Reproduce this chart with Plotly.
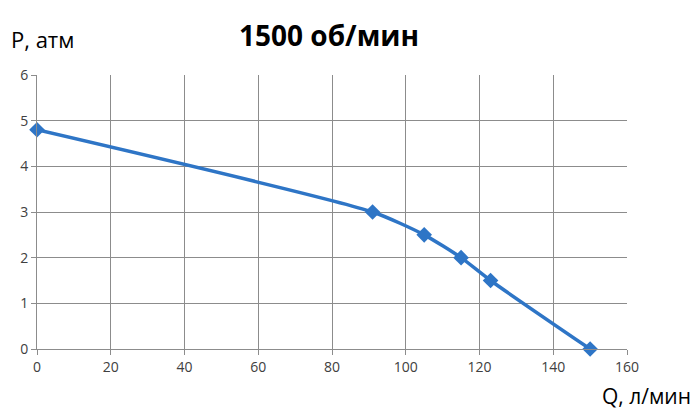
import plotly.graph_objects as go

q_values = [0, 91, 105, 115, 123, 150]
p_values = [4.8, 3.0, 2.5, 2.0, 1.5, 0.0]
x_ticks = [0, 20, 40, 60, 80, 100, 120, 140, 160]
y_ticks = [0, 1, 2, 3, 4, 5, 6]

fig = go.Figure()
fig.add_trace(go.Scatter(
    x=q_values, y=p_values, mode="lines+markers",
    line=dict(color="#2E75C6", width=3.5, shape="spline", smoothing=0.6),
    marker=dict(symbol="diamond", size=12, color="#2E75C6"),
    showlegend=False, cliponaxis=False,
))

font_family = "Open Sans, Noto Sans, sans-serif"
fig.update_layout(
    width=700, height=410,
    margin=dict(l=37, r=73, t=75, b=61),
    paper_bgcolor="white", plot_bgcolor="white",
    font=dict(family=font_family, color="#000000"),
    xaxis=dict(range=[0, 160], tickvals=x_ticks, showgrid=True, gridcolor="#8c8c8c",
               gridwidth=1, showline=True, linecolor="#8c8c8c", linewidth=1,
               ticks="outside", ticklen=5, tickcolor="#8c8c8c",
               tickfont=dict(size=14, color="#404040"), zeroline=False, mirror=False),
    yaxis=dict(range=[0, 6], tickvals=y_ticks, showgrid=True, gridcolor="#8c8c8c",
               gridwidth=1, showline=True, linecolor="#8c8c8c", linewidth=1,
               ticks="outside", ticklen=5, tickcolor="#8c8c8c",
               tickfont=dict(size=14, color="#404040"), zeroline=False),
    annotations=[
        dict(text="<b>1500 об/мин</b>", x=329, y=35, showarrow=False,
             font=dict(size=28, color="#000000")),
        dict(text="P, атм", x=9, y=39, showarrow=False, xanchor="left", yanchor="middle",
             font=dict(size=22, color="#000000")),
        dict(text="Q, л/мин", x=693, y=396, showarrow=False, xanchor="right", yanchor="middle",
             font=dict(size=21, color="#000000")),
    ],
)
# convert pixel positions into paper coordinates
pw, ph = 700 - 37 - 73, 410 - 75 - 61
for a in fig.layout.annotations:
    a.xref = "paper"; a.yref = "paper"
    px, py = a.x, a.y
    a.x = (px - 37) / pw
    a.y = (349 - py) / ph
fig.layout.annotations[0].xanchor = "center"
fig.layout.annotations[0].yanchor = "middle"

fig.write_html("out.html")
